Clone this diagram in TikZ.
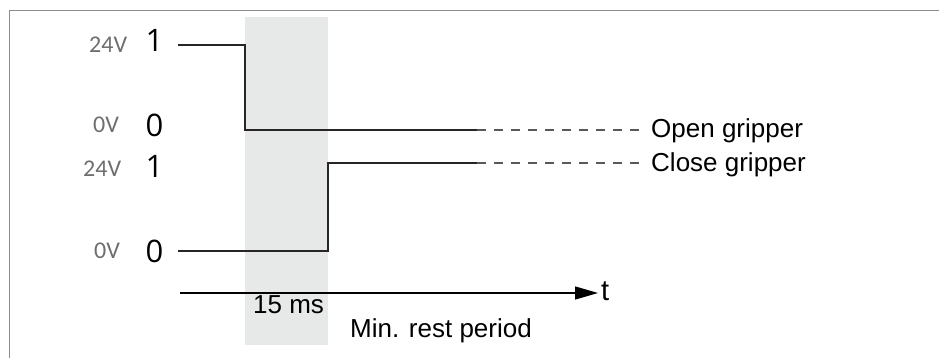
\documentclass[tikz,border=0pt]{standalone}
\usepackage{fontspec}
\setmainfont{Liberation Sans}
\newfontfamily\voltfont{Carlito}
\newfontfamily\bitfont{Open Sans}
\usetikzlibrary{arrows.meta}

\definecolor{voltgray}{HTML}{6E6E6E}
\definecolor{bandgray}{HTML}{E7E8E8}
\definecolor{framegray}{HTML}{8C8C8C}

\tikzset{
  volt/.style={font=\voltfont\fontsize{24}{24}\selectfont, text=voltgray, inner sep=0, anchor=base west},
  bit/.style={font=\bitfont\fontsize{31}{31}\selectfont, inner sep=0, anchor=base},
  txt/.style={font=\fontsize{26}{26}\selectfont, inner sep=0, anchor=base west},
  signal/.style={line width=1.3pt, color=black!85},
  later/.style={line width=1.3pt, color=black!65, dash pattern=on 9pt off 8pt}
}

\begin{document}
\begin{tikzpicture}[x=1pt, y=-1pt, >={Triangle[length=23pt,width=13pt]}]
\useasboundingbox (0,0) rectangle (939,358);
% frame and rest band
\draw[framegray, line width=1.5pt] (9.5,358) |- (939,10.5);
\fill[bandgray] (245,17) rectangle (328,345);

% levels
\node[volt] (v1a) at (89,53) {24V};
\node[volt] (v0a) at (93,133) {0V};
\node[volt] (v1b) at (83,177) {24V};
\node[volt] (v0b) at (94,258) {0V};
\node[bit] (b1a) at (154.5,52) {1};
\node[bit] (b0a) at (154.5,137) {0};
\node[bit] (b1b) at (154.5,178) {1};
\node[bit] (b0b) at (154.5,262) {0};

% open gripper signal
\coordinate (o0) at (178,45);
\coordinate (o1) at (245,45);
\coordinate (o2) at (245,130);
\coordinate (o3) at (477,130);
\coordinate (o4) at (640,130);
\draw[signal] (o0) -- (o1) -- (o2) -- (o3);
\draw[later] (o3) -- (o4);
\node[txt] (open) at (651,138) {Open gripper};

% close gripper signal
\coordinate (c0) at (178,251);
\coordinate (c1) at (328,251);
\coordinate (c2) at (328,163);
\coordinate (c3) at (477,163);
\coordinate (c4) at (640,163);
\draw[signal] (c0) -- (c1) -- (c2) -- (c3);
\draw[later] (c3) -- (c4);
\node[txt] (close) at (651,172) {Close gripper};

% time axis
\coordinate (t0) at (180,293);
\coordinate (t1) at (598,293);
\draw[->, signal, color=black] (t0) -- (t1);
\node[txt, font=\fontsize{29}{29}\selectfont] (t) at (601,300) {t};
\node[txt] (ms) at (253,313) {15 ms};
\node[txt] (rest) at (350,337) {Min. rest period};
\end{tikzpicture}
\end{document}
